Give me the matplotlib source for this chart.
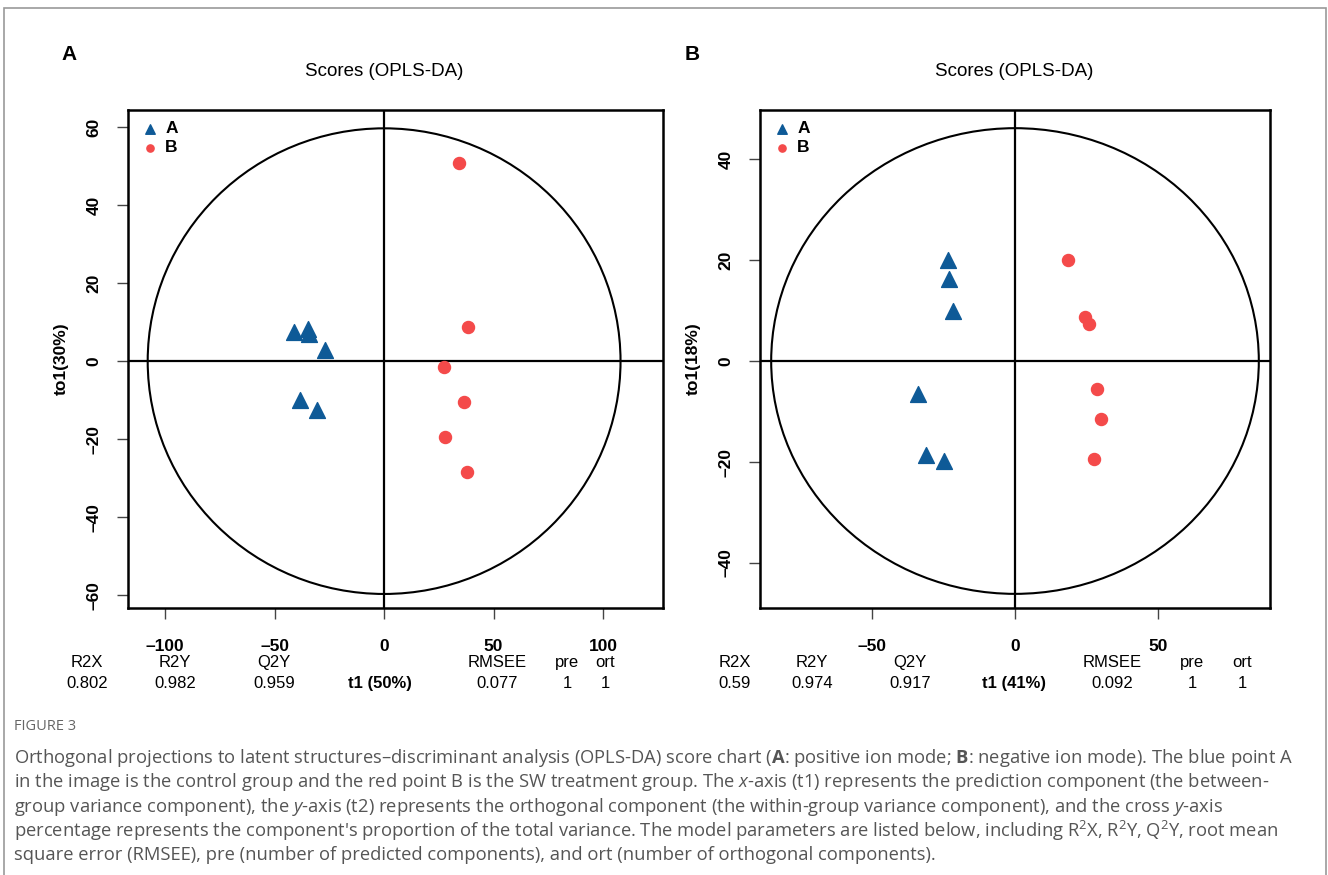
import matplotlib
matplotlib.use('Agg')
import matplotlib.pyplot as plt
from matplotlib.patches import Ellipse, Rectangle

# ---- data ----
# panel A (positive ion mode)
a_grpA_t1 = [-41, -35, -34.5, -27, -38.5, -30.5]
a_grpA_to1 = [7.4, 8.2, 6.9, 2.8, -10.0, -12.6]
a_grpB_t1 = [34, 38.5, 27.5, 36.5, 28, 38]
a_grpB_to1 = [50.8, 8.7, -1.5, -10.5, -19.5, -28.5]
a_ellipse = (108, 59.7)          # half axes of the Hotelling ellipse
a_xticks = [-100, -50, 0, 50, 100]
a_yticks = [-60, -40, -20, 0, 20, 40, 60]
a_ylabel = "to1(30%)"
a_stats_names = ["R2X", "R2Y", "Q2Y", "", "RMSEE", "pre", "ort"]
a_stats_vals = ["0.802", "0.982", "0.959", "t1 (50%)", "0.077", "1", "1"]

# panel B (negative ion mode)
b_grpA_t1 = [-23.3, -23.0, -21.6, -33.8, -31.0, -24.7]
b_grpA_to1 = [20.0, 16.2, 9.9, -6.5, -18.6, -19.8]
b_grpB_t1 = [18.5, 24.4, 25.8, 28.6, 30.0, 27.5]
b_grpB_to1 = [20.0, 8.7, 7.3, -5.5, -11.5, -19.4]
b_ellipse = (85, 46.1)
b_xticks = [-50, 0, 50]
b_yticks = [-40, -20, 0, 20, 40]
b_ylabel = "to1(18%)"
b_stats_names = ["R2X", "R2Y", "Q2Y", "", "RMSEE", "pre", "ort"]
b_stats_vals = ["0.59", "0.974", "0.917", "t1 (41%)", "0.092", "1", "1"]

caption_head = "FIGURE 3"
caption_lines = [
    r"Orthogonal projections to latent structures–discriminant analysis (OPLS-DA) score chart ($\mathbf{A}$: positive ion mode; $\mathbf{B}$: negative ion mode). The blue point A",
    r"in the image is the control group and the red point B is the SW treatment group. The $\mathit{x}$-axis (t1) represents the prediction component (the between-",
    r"group variance component), the $\mathit{y}$-axis (t2) represents the orthogonal component (the within-group variance component), and the cross $\mathit{y}$-axis",
    r"percentage represents the component's proportion of the total variance. The model parameters are listed below, including R$^2$X, R$^2$Y, Q$^2$Y, root mean",
    r"square error (RMSEE), pre (number of predicted components), and ort (number of orthogonal components).",
]

BLUE = '#0E5A97'
RED = '#F44A4A'
W, H = 1328, 875

plt.rcParams['font.family'] = ['Liberation Sans', 'DejaVu Sans']
plt.rcParams['mathtext.fontset'] = 'custom'
plt.rcParams['mathtext.rm'] = 'Open Sans'
plt.rcParams['mathtext.it'] = 'Open Sans:italic'
plt.rcParams['mathtext.bf'] = 'Open Sans:bold'

fig = plt.figure(figsize=(W / 100, H / 100), dpi=100)
fig.patches.append(Rectangle((4 / W, -0.1), (W - 6) / W, 1.1 - 8 / H,
                             transform=fig.transFigure, fill=False,
                             edgecolor='#9a9a9a', linewidth=1.2))


def px(x, y):
    return x / W, 1 - y / H


def score_panel(rect, tA, oA, tB, oB, ell, xlim, ylim, xticks, yticks, ylabel):
    ax = fig.add_axes(rect)
    ax.axhline(0, color='black', lw=1.6, zorder=1)
    ax.axvline(0, color='black', lw=1.6, zorder=1)
    ax.add_patch(Ellipse((0, 0), 2 * ell[0], 2 * ell[1], fill=False,
                         edgecolor='black', lw=1.5, zorder=1))
    ax.scatter(tA, oA, marker='^', s=130, color=BLUE, label='A', zorder=3)
    ax.scatter(tB, oB, marker='o', s=75, color=RED, label='B', zorder=3)
    ax.set_xlim(*xlim)
    ax.set_ylim(*ylim)
    ax.set_xticks(xticks)
    ax.set_yticks(yticks)
    for s in ax.spines.values():
        s.set_linewidth(1.8)
    ax.tick_params(axis='both', length=8, width=1, color='#444444',
                   labelsize=12.5)
    ax.tick_params(axis='x', pad=14)
    ax.tick_params(axis='y', pad=11)
    ax.set_xticklabels([str(t).replace('-', '\u2013') for t in xticks],
                       fontweight='bold')
    ax.set_yticklabels([str(t).replace('-', '\u2013') for t in yticks],
                       fontweight='bold', rotation=90, va='center')
    ax.set_ylabel(ylabel, fontweight='bold', fontsize=12.5, labelpad=13)
    ax.legend(loc='upper left', frameon=False, markerscale=0.6,
              handletextpad=0.3, borderaxespad=0.25, labelspacing=0.2,
              handlelength=1.2, prop={'weight': 'bold', 'size': 12.5})
    return ax


axA = score_panel([128 / W, 1 - 608 / H, 535 / W, 498 / H],
                  a_grpA_t1, a_grpA_to1, a_grpB_t1, a_grpB_to1, a_ellipse,
                  (-117, 127.4), (-63.3, 64.4), a_xticks, a_yticks, a_ylabel)
axB = score_panel([760 / W, 1 - 608 / H, 510 / W, 498 / H],
                  b_grpA_t1, b_grpA_to1, b_grpB_t1, b_grpB_to1, b_ellipse,
                  (-88.9, 88.9), (-48.9, 49.7), b_xticks, b_yticks, b_ylabel)

# panel letters and titles
fig.text(*px(61, 54), "A", fontsize=15, fontweight='bold', va='center')
fig.text(*px(685, 54), "B", fontsize=15, fontweight='bold', va='center')
fig.text(*px(384, 72), "Scores (OPLS-DA)", fontsize=13.5, ha='center', va='center')
fig.text(*px(1014, 72), "Scores (OPLS-DA)", fontsize=13.5, ha='center', va='center')

# model statistics rows
a_stats_x = [87, 175, 274, 380, 497, 567, 605]
b_stats_x = [735, 812, 910, 1014, 1112, 1192, 1242]
for names, vals, xs in [(a_stats_names, a_stats_vals, a_stats_x),
                        (b_stats_names, b_stats_vals, b_stats_x)]:
    for n, v, x in zip(names, vals, xs):
        fig.text(*px(x, 667), n, fontsize=12, ha='center', va='baseline')
        fig.text(*px(x, 688), v, fontsize=12, ha='center', va='baseline',
                 fontweight='bold' if v.startswith('t1') else 'normal')

# caption
fig.text(*px(14, 727), caption_head, fontsize=10.5, color='#666666',
         family='Open Sans', va='center')
for i, line in enumerate(caption_lines):
    fig.text(*px(14, 758 + 24.3 * i), line, fontsize=13.2, color='#555555',
             family='Open Sans', va='center')

plt.savefig('out.png', dpi=100)
